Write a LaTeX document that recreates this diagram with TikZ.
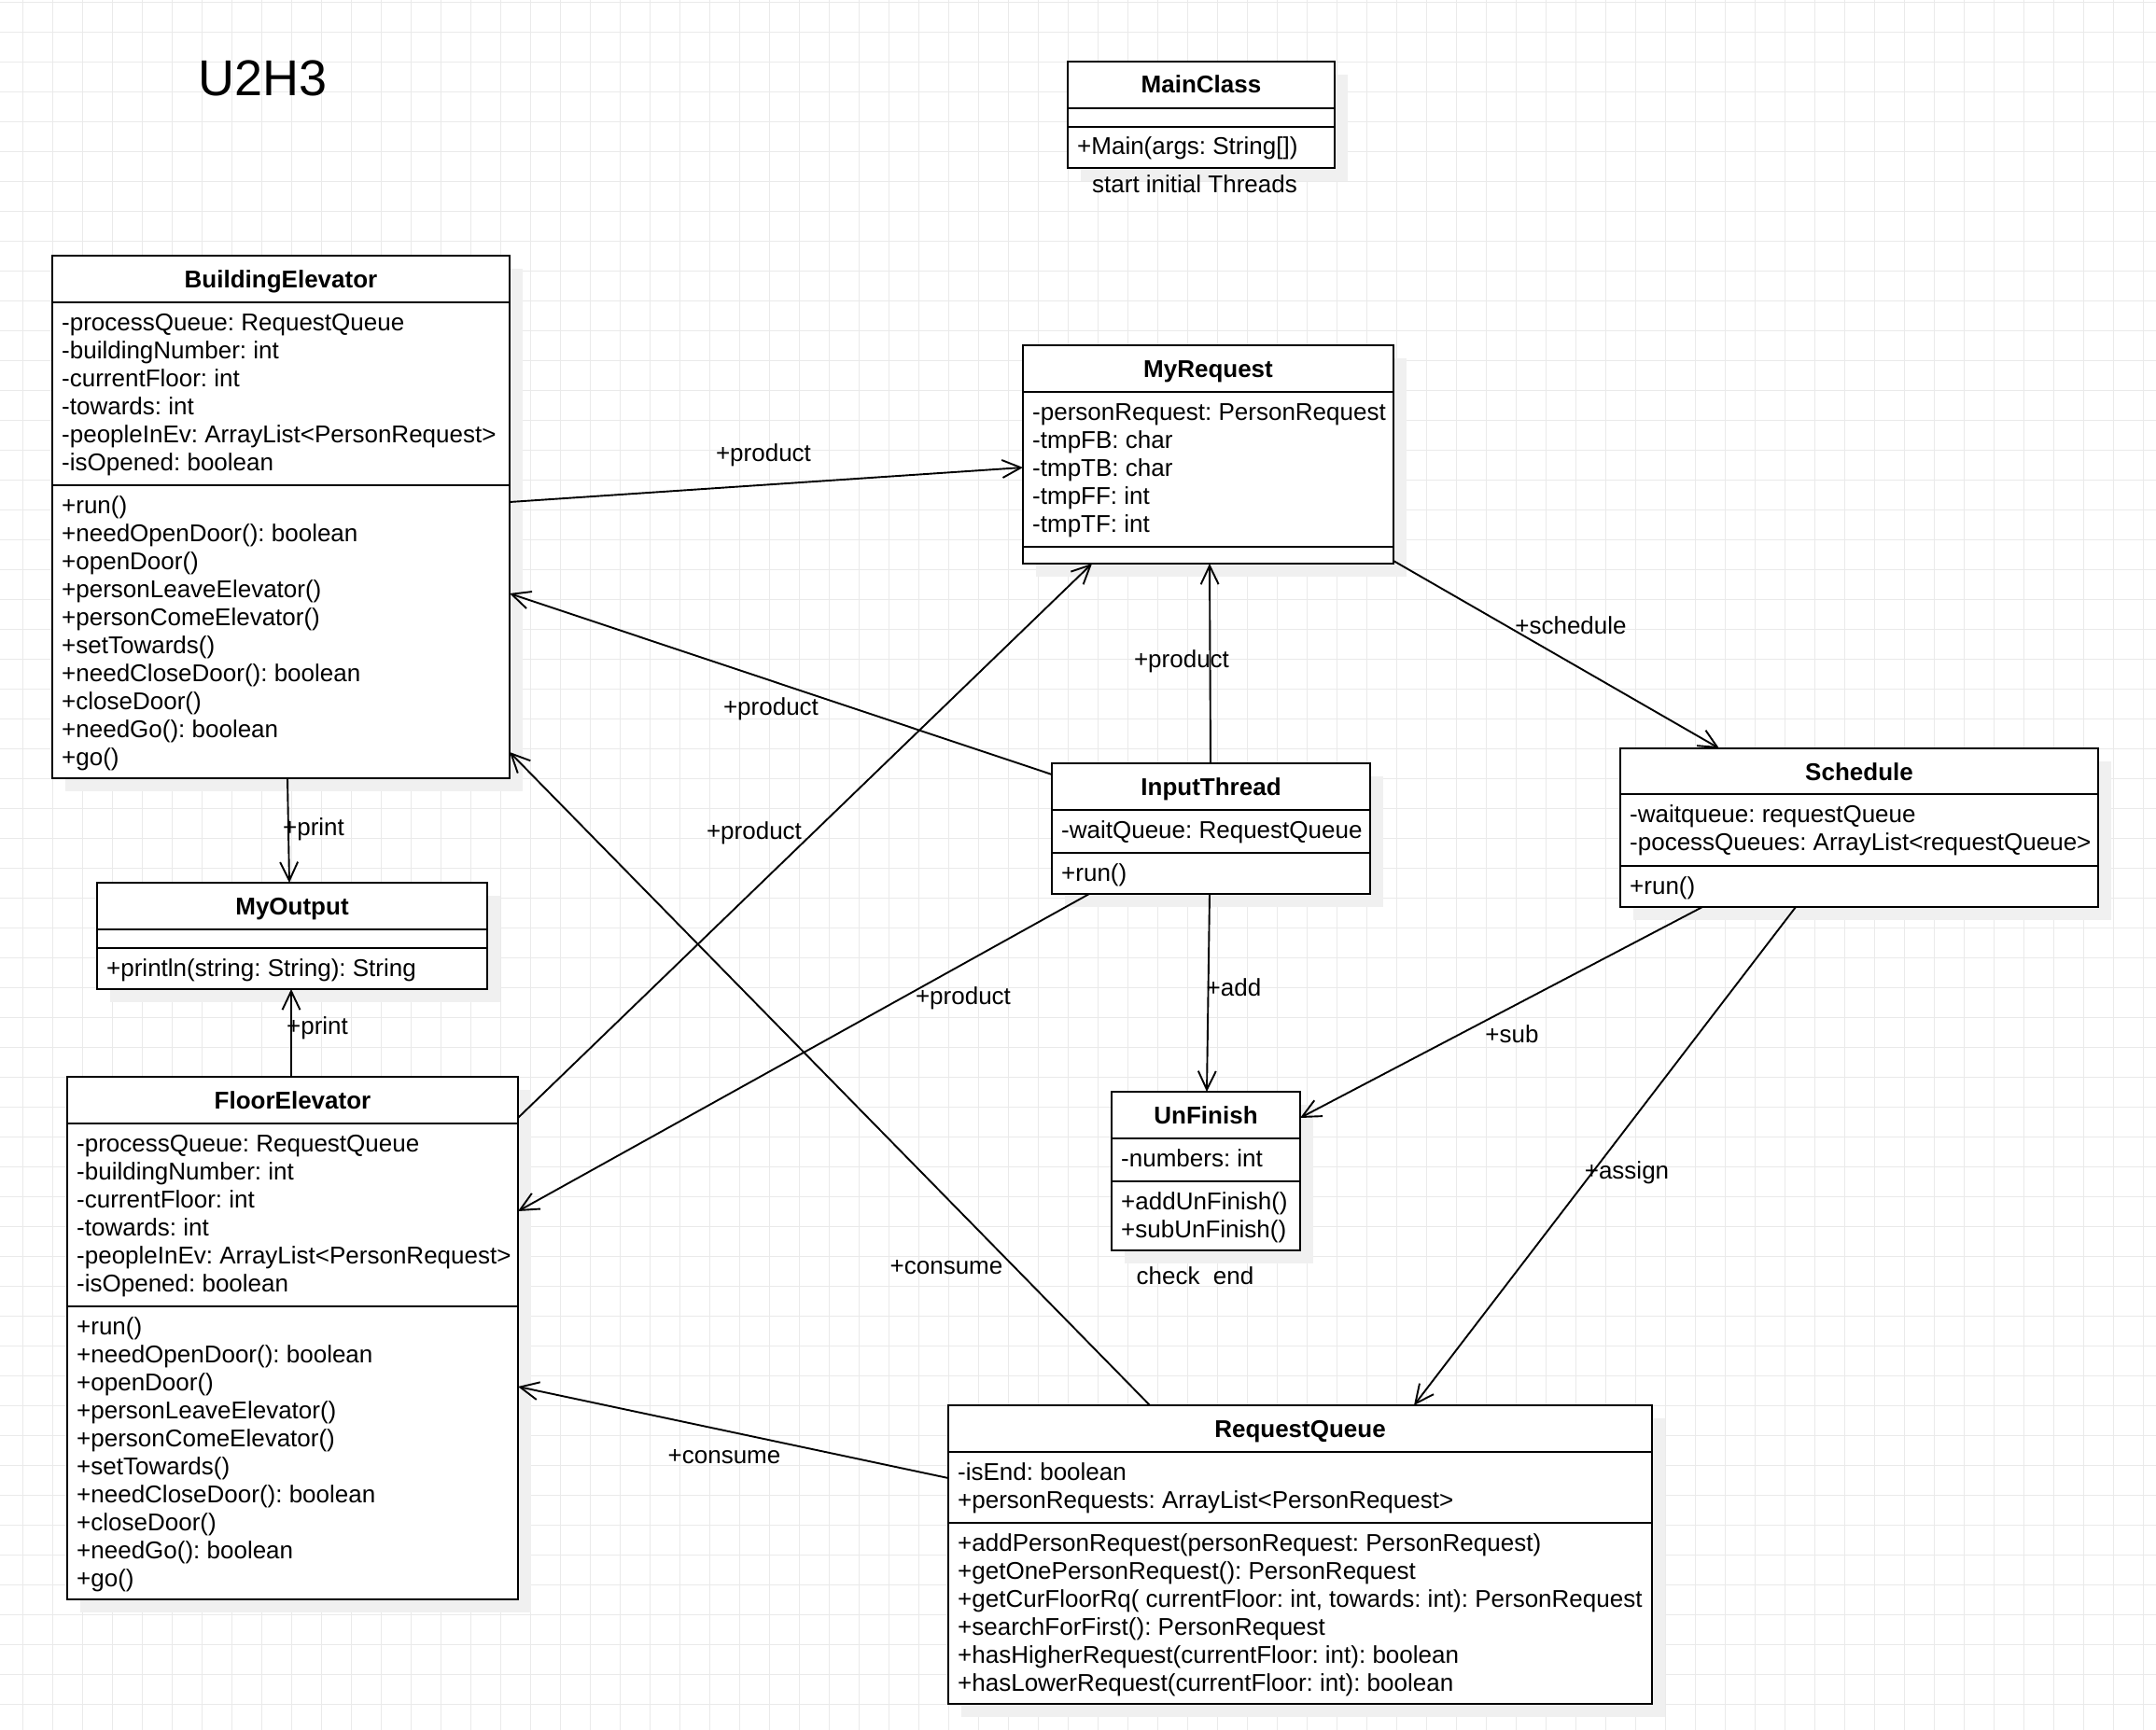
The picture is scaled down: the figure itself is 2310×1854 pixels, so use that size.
\documentclass[tikz,border=0pt]{standalone}
\usepackage{fontspec}
\setmainfont{Liberation Sans}
\usetikzlibrary{arrows.meta,shadows,calc}
\definecolor{gridc}{RGB}{234,234,234}
\definecolor{shadc}{RGB}{240,240,240}
\newcommand\mlines[1]{\begin{tabular}[t]{@{}l@{}}#1\end{tabular}}
\frenchspacing
\tikzset{
  cls/.style={draw=black, line width=2.2pt, fill=white, rectangle, inner sep=0pt, outer sep=0pt, anchor=north west,
    drop shadow={shadow xshift=14pt, shadow yshift=-14pt, fill=shadc, opacity=1}},
  sepl/.style={line width=2.2pt},
  gridl/.style={draw=gridc, line width=1.2pt},
  ttl/.style={font=\fontsize{26}{30}\selectfont\bfseries, inner sep=0pt, anchor=base},
  memb/.style={font=\fontsize{26}{30}\selectfont, inner sep=0pt, anchor=base west},
  lbl/.style={font=\fontsize{26}{30}\selectfont, inner sep=0pt, anchor=base},
  conn/.style={line width=1.9pt, -{Straight Barb[length=20pt,width=19pt]}},
}
\begin{document}
\begin{tikzpicture}[x=1pt,y=-1pt]
\fill[white] (0,0) rectangle (2310,1854);
\useasboundingbox (0,0) rectangle (2310,1854);
\foreach \i in {0,...,71} \draw[gridl] ({24.5+32*\i},0) -- ({24.5+32*\i},1854);
\foreach \i in {0,...,57} \draw[gridl] (0,{2.7+32*\i}) -- (2310,{2.7+32*\i});

% title
\node[font=\fontsize{54}{60}\selectfont, inner sep=0pt, anchor=base] (U2H3) at (281.5,103) {U2H3};

% MainClass
\node[cls, minimum width=286pt, minimum height=114pt] (MC) at (1144,66) {};
\draw[sepl] (MC.west |- 0,116) -- (MC.east |- 0,116);
\draw[sepl] (MC.west |- 0,136) -- (MC.east |- 0,136);
\node[ttl] (MCt) at ($(MC.north)+(0,34)$) {MainClass};
\node[memb] (MCm) at ($(MC.north west)+(10,100)$) {\mlines{+Main(args: String[])}};
\node[lbl] (MCn) at (1280,207) {start initial Threads};

% BuildingElevator
\node[cls, minimum width=490pt, minimum height=560pt] (BE) at (56,274) {};
\draw[sepl] (BE.west |- 0,324) -- (BE.east |- 0,324);
\draw[sepl] (BE.west |- 0,520) -- (BE.east |- 0,520);
\node[ttl] (BEt) at ($(BE.north)+(0,34)$) {BuildingElevator};
\node[memb] (BEa) at ($(BE.north west)+(10,80)$) {\mlines{-processQueue: RequestQueue\\-buildingNumber: int\\-currentFloor: int\\-towards: int\\-peopleInEv: ArrayList<PersonRequest>\\-isOpened: boolean}};
\node[memb] (BEm) at ($(BE.north west)+(10,276)$) {\mlines{+run()\\+needOpenDoor(): boolean\\+openDoor()\\+personLeaveElevator()\\+personComeElevator()\\+setTowards()\\+needCloseDoor(): boolean\\+closeDoor()\\+needGo(): boolean\\+go()}};

% MyRequest
\node[cls, minimum width=397pt, minimum height=234pt] (MR) at (1096,370) {};
\draw[sepl] (MR.west |- 0,420) -- (MR.east |- 0,420);
\draw[sepl] (MR.west |- 0,586) -- (MR.east |- 0,586);
\node[ttl] (MRt) at ($(MR.north)+(0,34)$) {MyRequest};
\node[memb] (MRa) at ($(MR.north west)+(10,80)$) {\mlines{-personRequest: PersonRequest\\-tmpFB: char\\-tmpTB: char\\-tmpFF: int\\-tmpTF: int}};

% InputThread
\node[cls, minimum width=341pt, minimum height=140pt] (IT) at (1127,818) {};
\draw[sepl] (IT.west |- 0,868) -- (IT.east |- 0,868);
\draw[sepl] (IT.west |- 0,914) -- (IT.east |- 0,914);
\node[ttl] (ITt) at ($(IT.north)+(0,34)$) {InputThread};
\node[memb] (ITa) at ($(IT.north west)+(10,80)$) {\mlines{-waitQueue: RequestQueue}};
\node[memb] (ITm) at ($(IT.north west)+(10,126)$) {\mlines{+run()}};

% Schedule
\node[cls, minimum width=512pt, minimum height=170pt] (SC) at (1736,802) {};
\draw[sepl] (SC.west |- 0,851) -- (SC.east |- 0,851);
\draw[sepl] (SC.west |- 0,928) -- (SC.east |- 0,928);
\node[ttl] (SCt) at ($(SC.north)+(0,34)$) {Schedule};
\node[memb] (SCa) at ($(SC.north west)+(10,79)$) {\mlines{-waitqueue: requestQueue\\-pocessQueues: ArrayList<requestQueue>}};
\node[memb] (SCm) at ($(SC.north west)+(10,156)$) {\mlines{+run()}};

% MyOutput
\node[cls, minimum width=418pt, minimum height=114pt] (MO) at (104,946) {};
\draw[sepl] (MO.west |- 0,996) -- (MO.east |- 0,996);
\draw[sepl] (MO.west |- 0,1016) -- (MO.east |- 0,1016);
\node[ttl] (MOt) at ($(MO.north)+(0,34)$) {MyOutput};
\node[memb] (MOm) at ($(MO.north west)+(10,100)$) {\mlines{+println(string: String): String}};

% FloorElevator
\node[cls, minimum width=483pt, minimum height=560pt] (FE) at (72,1154) {};
\draw[sepl] (FE.west |- 0,1204) -- (FE.east |- 0,1204);
\draw[sepl] (FE.west |- 0,1400) -- (FE.east |- 0,1400);
\node[ttl] (FEt) at ($(FE.north)+(0,34)$) {FloorElevator};
\node[memb] (FEa) at ($(FE.north west)+(10,80)$) {\mlines{-processQueue: RequestQueue\\-buildingNumber: int\\-currentFloor: int\\-towards: int\\-peopleInEv: ArrayList<PersonRequest>\\-isOpened: boolean}};
\node[memb] (FEm) at ($(FE.north west)+(10,276)$) {\mlines{+run()\\+needOpenDoor(): boolean\\+openDoor()\\+personLeaveElevator()\\+personComeElevator()\\+setTowards()\\+needCloseDoor(): boolean\\+closeDoor()\\+needGo(): boolean\\+go()}};

% UnFinish
\node[cls, minimum width=202pt, minimum height=170pt] (UF) at (1191,1170) {};
\draw[sepl] (UF.west |- 0,1220) -- (UF.east |- 0,1220);
\draw[sepl] (UF.west |- 0,1266) -- (UF.east |- 0,1266);
\node[ttl] (UFt) at ($(UF.north)+(0,34)$) {UnFinish};
\node[memb] (UFa) at ($(UF.north west)+(10,80)$) {\mlines{-numbers: int}};
\node[memb] (UFm) at ($(UF.north west)+(10,126)$) {\mlines{+addUnFinish()\\+subUnFinish()}};
\node[lbl] (UFn) at (1280.5,1376) {check\ \ end};

% RequestQueue
\node[cls, minimum width=754pt, minimum height=320pt] (RQ) at (1016,1506) {};
\draw[sepl] (RQ.west |- 0,1556) -- (RQ.east |- 0,1556);
\draw[sepl] (RQ.west |- 0,1632) -- (RQ.east |- 0,1632);
\node[ttl] (RQt) at ($(RQ.north)+(0,34)$) {RequestQueue};
\node[memb] (RQa) at ($(RQ.north west)+(10,80)$) {\mlines{-isEnd: boolean\\+personRequests: ArrayList<PersonRequest>}};
\node[memb] (RQm) at ($(RQ.north west)+(10,156)$) {\mlines{+addPersonRequest(personRequest: PersonRequest)\\+getOnePersonRequest(): PersonRequest\\+getCurFloorRq( currentFloor: int, towards: int): PersonRequest\\+searchForFirst(): PersonRequest\\+hasHigherRequest(currentFloor: int): boolean\\+hasLowerRequest(currentFloor: int): boolean}};

% connectors
\draw[conn] (BE.east |- 0,538) -- (MR.west |- 0,501);
\draw[conn] (IT.west |- 0,830) -- (BE.east |- 0,636);
\draw[conn] (FE.east |- 0,1198) -- (1170,0 |- MR.south);
\draw[conn] (1297,0 |- IT.north) -- (1296,0 |- MR.south);
\draw[conn] (MR.east |- 0,601) -- (1842,0 |- SC.north);
\draw[conn] (1167,0 |- IT.south) -- (FE.east |- 0,1298);
\draw[conn] (1232,0 |- RQ.north) -- (BE.east |- 0,806);
\draw[conn] (RQ.west |- 0,1584) -- (FE.east |- 0,1486);
\draw[conn] (1296,0 |- IT.south) -- (1293,0 |- UF.north);
\draw[conn] (1824,0 |- SC.south) -- (UF.east |- 0,1198);
\draw[conn] (1924,0 |- SC.south) -- (1515,0 |- RQ.north);
\draw[conn] (308,0 |- BE.south) -- (310,0 |- MO.north);
\draw[conn] (312,0 |- FE.north) -- (312,0 |- MO.south);

% labels
\node[lbl] (L1) at (818,494) {+product};
\node[lbl] (L2) at (826,766) {+product};
\node[lbl] (L3) at (808,899) {+product};
\node[lbl] (L4) at (1266,715) {+product};
\node[lbl] (L5) at (1683,679) {+schedule};
\node[lbl] (L6) at (1032,1076) {+product};
\node[lbl] (L7) at (1014,1365) {+consume};
\node[lbl] (L8) at (776,1568) {+consume};
\node[lbl] (L9) at (1322,1067) {+add};
\node[lbl] (L10) at (1620,1117) {+sub};
\node[lbl] (L11) at (1743,1263) {+assign};
\node[lbl] (L12) at (336,895) {+print};
\node[lbl] (L13) at (340,1108) {+print};
\end{tikzpicture}
\end{document}
